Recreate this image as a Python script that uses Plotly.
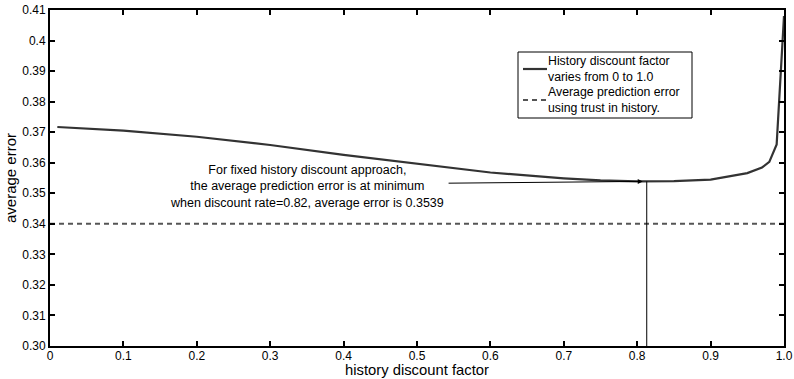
import plotly.graph_objects as go

# Data
discount_factor = [0.01, 0.1, 0.2, 0.3, 0.4, 0.5, 0.6, 0.7, 0.75, 0.8, 0.82,
                   0.85, 0.9, 0.95, 0.97, 0.98, 0.99, 1.0]
avg_error_fixed = [0.3717, 0.3705, 0.3685, 0.3658, 0.3626, 0.3597, 0.3568,
                   0.3549, 0.3542, 0.3539, 0.3539, 0.3540, 0.3545, 0.3566,
                   0.3584, 0.3603, 0.3660, 0.4080]
trust_history_error = 0.340
min_x = 0.813
min_y = 0.3539

series_names = [["History discount factor", "varies from 0 to 1.0"],
                ["Average prediction error", "using trust in history."]]
note_lines = ["For fixed history discount approach,",
              "the average prediction error is at minimum",
              "when discount rate=0.82, average error is 0.3539"]

y_ticks = [0.30, 0.31, 0.32, 0.33, 0.34, 0.35, 0.36, 0.37, 0.38, 0.39, 0.40, 0.41]
y_labels = ["0.30", "0.31", "0.32", "0.33", "0.34", "0.35", "0.36", "0.37",
            "0.38", "0.39", "0.4", "0.41"]
x_ticks = [0, 0.1, 0.2, 0.3, 0.4, 0.5, 0.6, 0.7, 0.8, 0.9, 1.0]
x_labels = ["0", "0.1", "0.2", "0.3", "0.4", "0.5", "0.6", "0.7", "0.8", "0.9", "1.0"]

FONT = "Liberation Sans, Arial, Helvetica, sans-serif"
CURVE = "#333333"
DASH_C = "#555555"

# plot-area geometry (pixels) for converting legend placement to paper coords
L, R, T, B = 50, 784, 10, 346
def px(xp):
    return (xp - L) / (R - L)
def py(yp):
    return (B - yp) / (B - T)

fig = go.Figure()
fig.add_trace(go.Scatter(
    x=discount_factor, y=avg_error_fixed, mode="lines",
    line=dict(color=CURVE, width=2.2), name=" ".join(series_names[0]),
    showlegend=False))
fig.add_trace(go.Scatter(
    x=[0, 1.0], y=[trust_history_error, trust_history_error], mode="lines",
    line=dict(color=DASH_C, width=2, dash="5px,4px"),
    name=" ".join(series_names[1]), showlegend=False))

# vertical line at minimum
fig.add_trace(go.Scatter(
    x=[min_x, min_x], y=[0.30, min_y], mode="lines",
    line=dict(color="black", width=1), showlegend=False, hoverinfo="skip"))

fig.add_annotation(
    x=min_x, y=min_y, xref="x", yref="y",
    ax=0.541, ay=0.3533, axref="x", ayref="y",
    showarrow=True, arrowhead=2, arrowsize=1, arrowwidth=1, arrowcolor="black",
    standoff=4, text="")
fig.add_annotation(x=0.350, y=0.3521, xref="x", yref="y", showarrow=False,
                   text="<br>".join(note_lines), align="center",
                   font=dict(family=FONT, size=12.5, color="black"))

# manual legend (MATLAB style)
fig.add_shape(type="rect", xref="paper", yref="paper",
              x0=px(518), x1=px(692), y0=py(118), y1=py(52),
              line=dict(color="black", width=1), fillcolor="white", layer="above")
fig.add_shape(type="line", xref="paper", yref="paper",
              x0=px(523), x1=px(547), y0=py(69), y1=py(69),
              line=dict(color=CURVE, width=2.2), layer="above")
fig.add_shape(type="line", xref="paper", yref="paper",
              x0=px(523), x1=px(547), y0=py(100), y1=py(100),
              line=dict(color=DASH_C, width=2, dash="5px,4px"), layer="above")
for lines, yp in zip(series_names, [69, 100]):
    fig.add_annotation(x=px(546), y=py(yp), xref="paper", yref="paper",
                       xanchor="left", yanchor="middle", showarrow=False,
                       align="left", text="<br>".join(lines),
                       font=dict(family=FONT, size=12.3, color="black"))

# x-axis title as bottom-anchored text
fig.add_annotation(x=0.5, y=py(379), xref="paper", yref="paper",
                   xanchor="center", yanchor="bottom", showarrow=False,
                   text="history discount factor", borderpad=0,
                   font=dict(family=FONT, size=14.8, color="black"))

fig.update_layout(
    width=794, height=379,
    margin=dict(l=L, r=794 - R, t=T, b=379 - B),
    paper_bgcolor="white", plot_bgcolor="white",
    font=dict(family=FONT, size=12, color="black"),
    showlegend=False,
    xaxis=dict(range=[0, 1.0], tickvals=x_ticks, ticktext=x_labels,
               showgrid=False, zeroline=False, showline=True, linecolor="black",
               linewidth=2, mirror="ticks", ticks="inside", ticklen=5,
               tickcolor="black", tickwidth=1.5, automargin=False,
               ticklabelstandoff=-2,
               tickfont=dict(family=FONT, size=12)),
    yaxis=dict(range=[0.30, 0.41], tickvals=y_ticks, ticktext=y_labels,
               showgrid=False, zeroline=False, showline=True, linecolor="black",
               linewidth=2, mirror="ticks", ticks="inside", ticklen=5,
               tickcolor="black", tickwidth=1.5, automargin=False,
               title=dict(text="average error", standoff=2,
                          font=dict(family=FONT, size=15)),
               tickfont=dict(family=FONT, size=12)),
)

fig.write_html("out.html")
